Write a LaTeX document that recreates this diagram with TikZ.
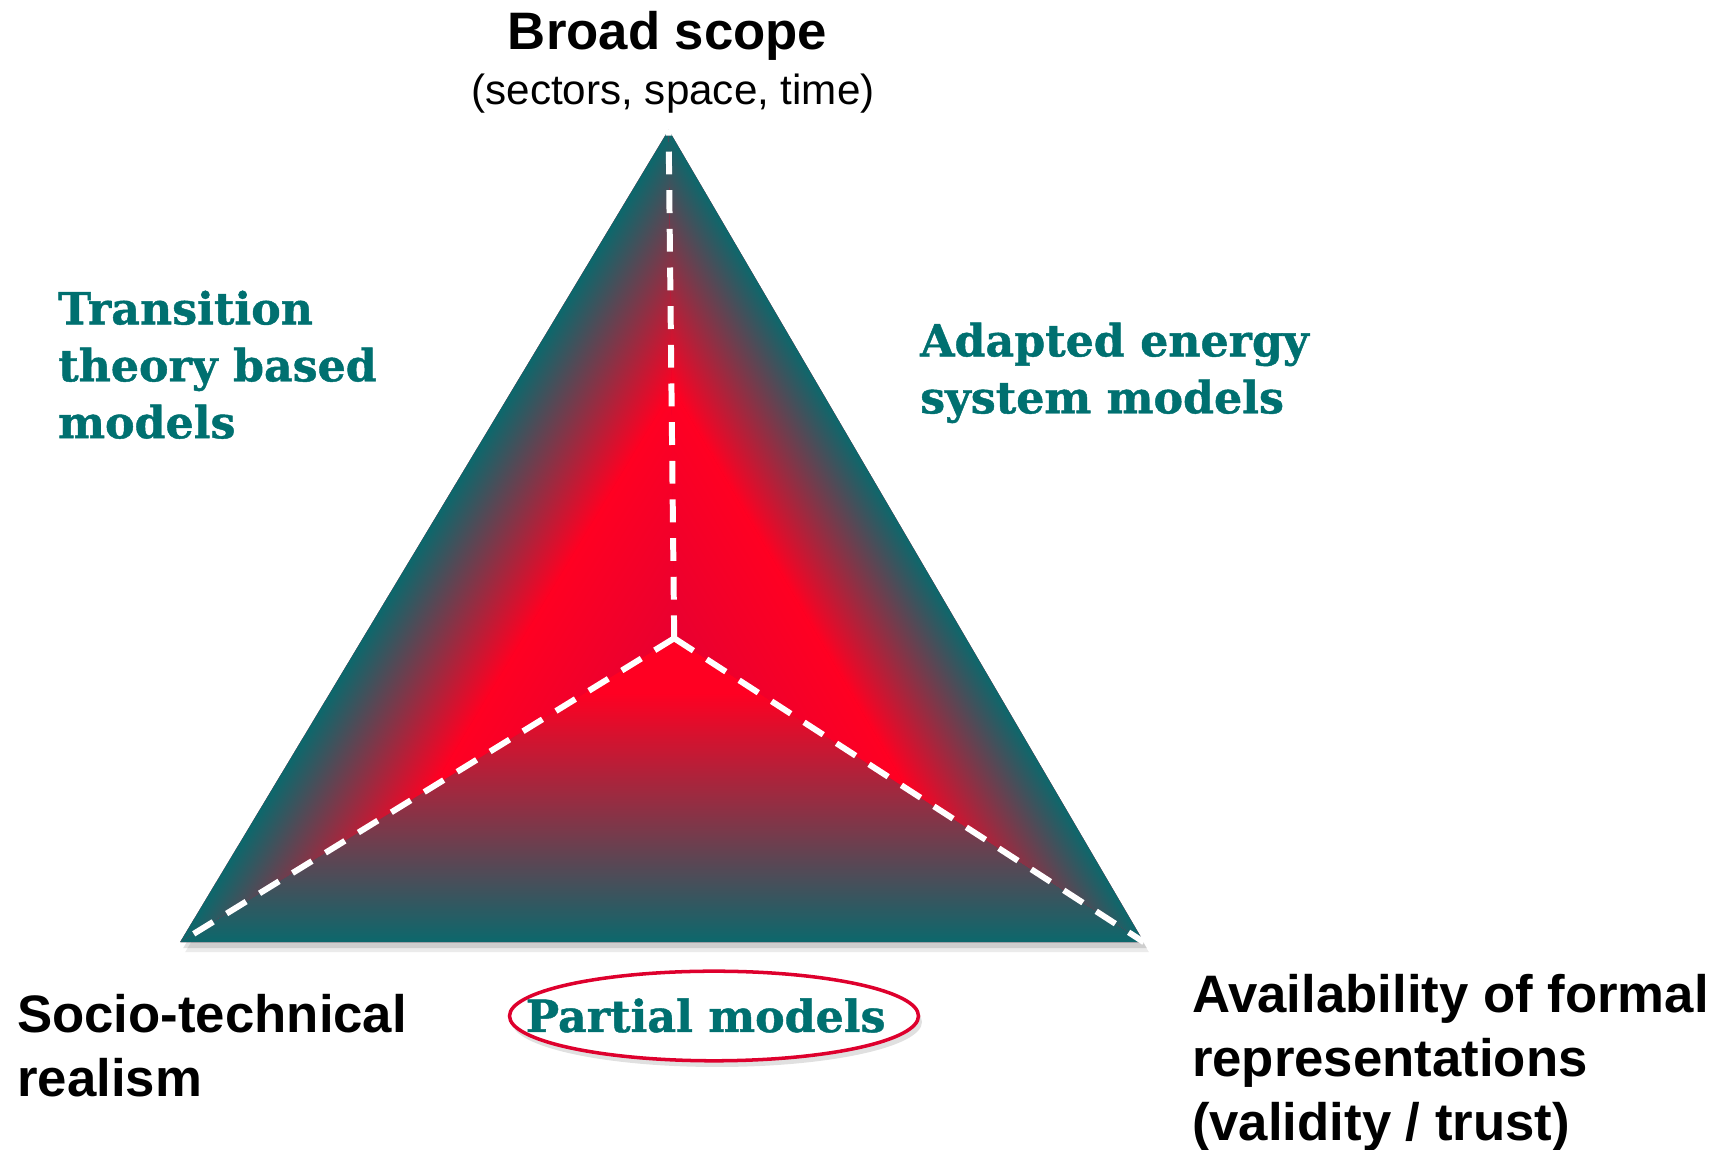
\documentclass[tikz,border=0pt]{standalone}
\usepackage{fontspec}
\setmainfont{DejaVu Serif}
\setsansfont{Liberation Sans}
\usetikzlibrary{calc}

\definecolor{petrol}{RGB}{12,104,108}
\definecolor{petroltext}{RGB}{0,112,112}
\definecolor{hotred}{RGB}{255,0,34}
\definecolor{crimson}{RGB}{232,0,48}
\definecolor{ringred}{RGB}{222,0,45}

\tikzset{
  corner/.style={font=\sffamily\bfseries\fontsize{15}{18.2}\selectfont, align=left, inner sep=0pt},
  family/.style={font=\rmfamily\bfseries\addfontfeature{FakeBold=1}\fontsize{12.6}{16.2}\selectfont, text=petroltext, align=left, inner sep=0pt},
  spoke/.style={white, line width=1.7pt, dash pattern=on 6.5pt off 4.5pt},
}

\begin{document}
\begin{tikzpicture}
  \useasboundingbox (0,0) rectangle (17.33,11.5);

  \coordinate (top) at (6.686,10.201);
  \coordinate (left) at (1.801,2.078);
  \coordinate (right) at (11.439,2.078);
  \coordinate (mid) at (6.742,5.117);

  % Schatten
  \fill[black, opacity=0.12] ($(top)+(0.03,-0.06)$) -- ($(left)+(0.03,-0.06)$) -- ($(right)+(0.03,-0.06)$) -- cycle;
  \fill[black, opacity=0.08] ($(top)+(0.05,-0.1)$) -- ($(left)+(0.05,-0.1)$) -- ($(right)+(0.05,-0.1)$) -- cycle;

  \fill[crimson] (top) -- (left) -- (right) -- cycle;

  % Flaechen: petrol am Rand, rot zur Mitte
  \begin{scope}
    \clip (top) -- (left) -- (mid) -- cycle;
    \begin{scope}[transform canvas={rotate around={-121.03:(mid)}}]
      \fill[petrol] ($(mid)+(-7,-3.7)$) rectangle ($(mid)+(7,-2.668)$);
      \shade[bottom color=petrol, top color=hotred] ($(mid)+(-7,-2.668)$) rectangle ($(mid)+(7,-1.3)$);
      \shade[bottom color=hotred, top color=crimson] ($(mid)+(-7,-1.3)$) rectangle ($(mid)+(7,0)$);
    \end{scope}
  \end{scope}

  \begin{scope}
    \clip (left) -- (right) -- (mid) -- cycle;
    \fill[petrol] ($(mid)+(-7,-4)$) rectangle ($(mid)+(7,-3.039)$);
    \shade[bottom color=petrol, top color=hotred] ($(mid)+(-7,-3.039)$) rectangle ($(mid)+(7,-0.55)$);
    \fill[hotred] ($(mid)+(-7,-0.55)$) rectangle ($(mid)+(7,0.1)$);
  \end{scope}

  \begin{scope}
    \clip (right) -- (top) -- (mid) -- cycle;
    \begin{scope}[transform canvas={rotate around={120.33:(mid)}}]
      \fill[petrol] ($(mid)+(-7,-3.5)$) rectangle ($(mid)+(7,-2.519)$);
      \shade[bottom color=petrol, top color=hotred] ($(mid)+(-7,-2.519)$) rectangle ($(mid)+(7,-1.25)$);
      \shade[bottom color=hotred, top color=crimson] ($(mid)+(-7,-1.25)$) rectangle ($(mid)+(7,0)$);
    \end{scope}
  \end{scope}

  \draw[spoke] (mid) -- (top);
  \draw[spoke] (mid) -- (left);
  \draw[spoke] (mid) -- (right);

  % Ecken
  \node[corner, anchor=base] (scope) at (6.676,11.0) {Broad scope};
  \node[font=\sffamily\fontsize{12}{14}\selectfont, inner sep=0pt, anchor=base] (dims) at (6.731,10.45) {(sectors, space, time)};
  \node[corner, anchor=north west] (realism) at (0.166,1.56) {Socio-technical\\realism};
  \node[corner, anchor=north west] (formal) at (11.914,1.765) {Availability of formal\\representations\\(validity / trust)};

  % Modellfamilien
  \node[family, anchor=north west] (transition) at (0.575,8.6) {Transition\\theory based\\models};
  \node[family, anchor=north west] (adapted) at (9.195,8.28) {Adapted energy\\system models};

  \fill[black, opacity=0.12] (7.17,1.28) ellipse [x radius=2.05, y radius=0.45];
  \fill[white] (7.14,1.34) ellipse [x radius=2.045, y radius=0.448];
  \draw[ringred, line width=1pt] (7.14,1.34) ellipse [x radius=2.045, y radius=0.448];
  \node[family, anchor=base] (partial) at (7.057,1.18) {Partial models};
\end{tikzpicture}
\end{document}
